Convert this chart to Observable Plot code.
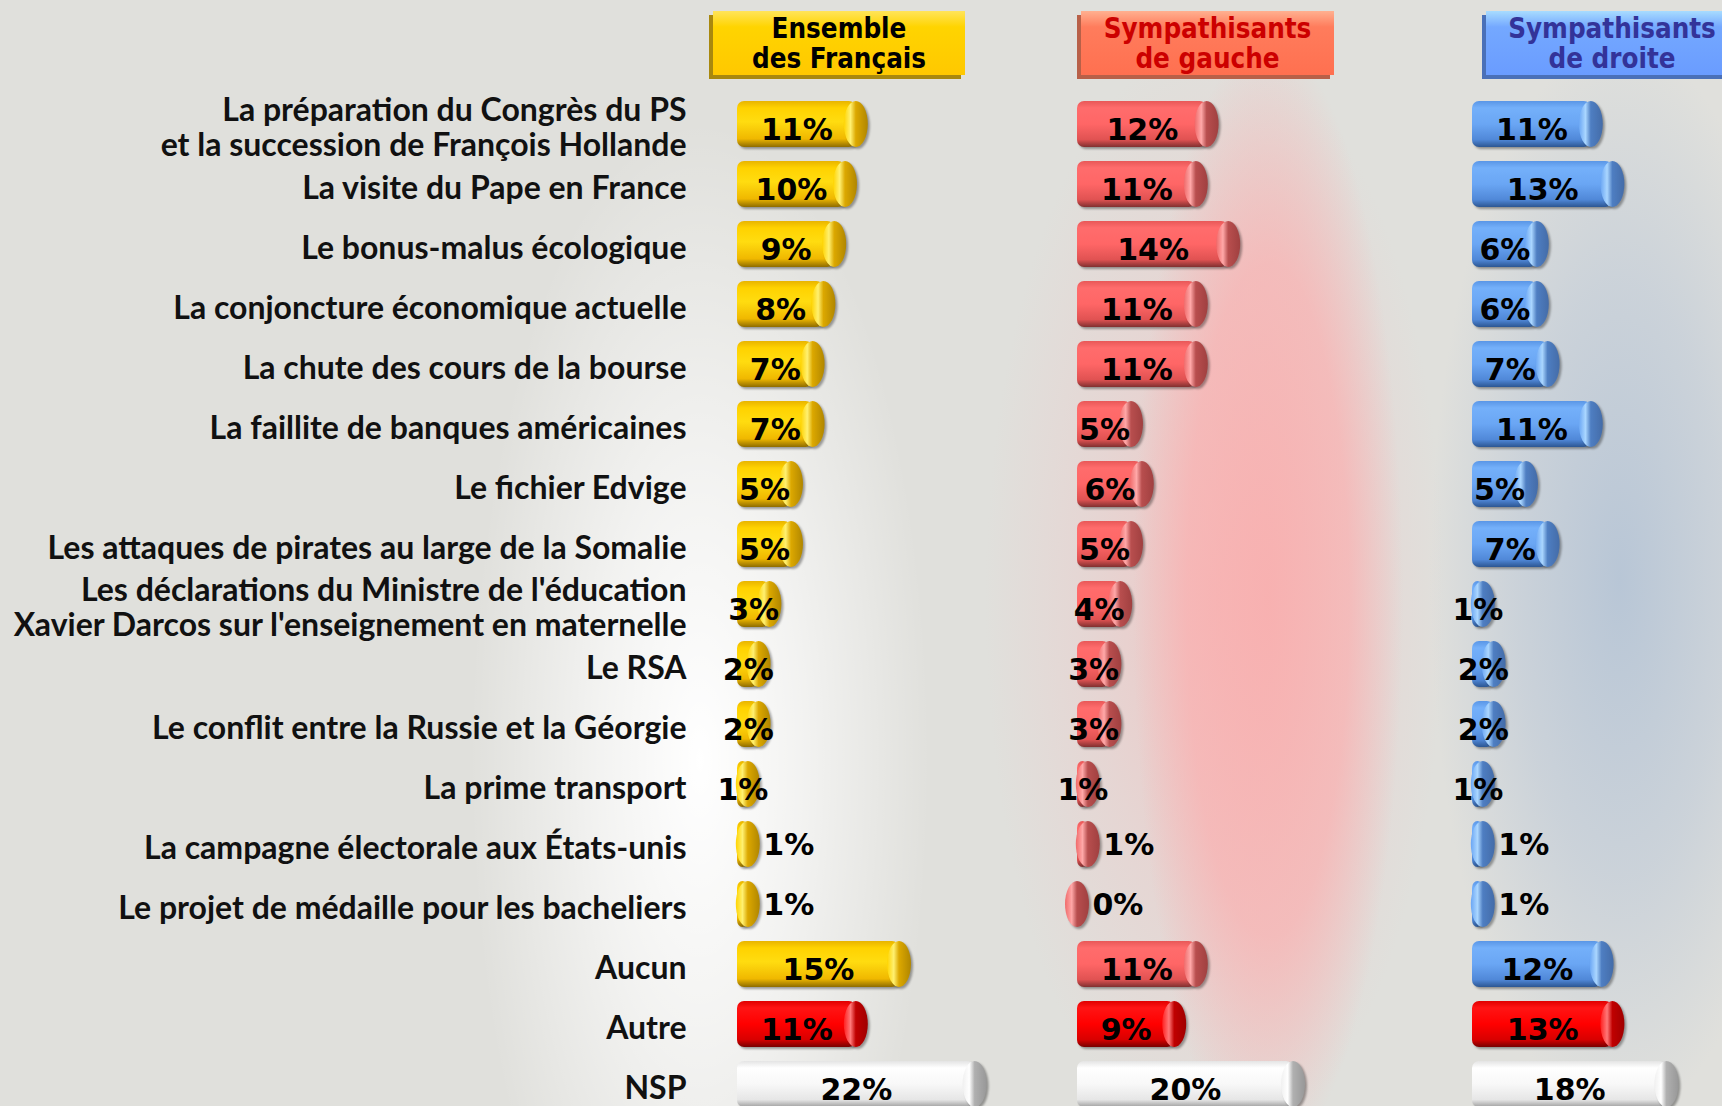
<!DOCTYPE html>
<html>
<head>
<meta charset="utf-8">
<script src="https://cdn.jsdelivr.net/npm/d3@7"></script>
<script src="https://cdn.jsdelivr.net/npm/@observablehq/plot@0.6"></script>
<style>
  html, body { margin: 0; padding: 0; background: #E0E0DC; }
  #chart {
    position: relative; width: 1722px; height: 1106px; overflow: hidden;
    background:
      radial-gradient(ellipse 135px 560px at 1268px 600px, rgba(250,172,172,0.85) 0%, rgba(250,176,176,0.7) 60%, rgba(250,180,180,0) 100%),
      radial-gradient(ellipse 230px 560px at 1215px 600px, rgba(244,186,186,0.7) 0%, rgba(238,198,198,0.4) 55%, rgba(224,224,220,0) 100%),
      radial-gradient(ellipse 190px 540px at 1620px 580px, rgba(184,198,214,1) 0%, rgba(192,203,216,0.65) 55%, rgba(224,224,220,0) 100%),
      radial-gradient(ellipse 230px 640px at 700px 760px, rgba(255,255,255,1) 0%, rgba(255,255,255,0.6) 45%, rgba(255,255,255,0) 100%),
      #E0E0DC;
  }
  .hdr {
    position: absolute; top: 11px; height: 64px; box-sizing: border-box;
    text-align: center; padding-top: 2px;
    font-family: "DejaVu Sans Condensed", "DejaVu Sans", sans-serif; font-stretch: condensed;
    font-weight: bold; font-size: 27.5px; line-height: 30px;
  }
  #h1 { left: 713px; width: 252px; color: #000; background: linear-gradient(#FFE45A 0%, #FFD400 25%, #FFC800 100%); box-shadow: -4px 4px 0 #A8880E; }
  #h2 { left: 1081px; width: 253px; color: #CC0000; background: linear-gradient(#FFB090 0%, #FF7C5C 25%, #FF7050 100%); box-shadow: -4px 4px 0 #B86048; }
  #h3 { left: 1486px; width: 252px; color: #333399; background: linear-gradient(#A8DCFF 0%, #74A8FF 25%, #6A9CFF 100%); box-shadow: -4px 4px 0 #4A70B8; }
  .plots { position: absolute; left: 0; top: 86px; width: 1722px; height: 1020px; }
  .plots svg { position: absolute; left: 0; top: 0; overflow: visible; }
  .plots svg g[aria-label="bar"] { filter: drop-shadow(2px 2px 1px rgba(0,0,0,0.35)); }
</style>
</head>
<body>
<svg width="0" height="0" style="position:absolute">
  <defs>
    <linearGradient id="body-yellow" x1="0" y1="0" x2="0" y2="1">
      <stop offset="0" stop-color="#E8B400"/><stop offset="0.15" stop-color="#FFD200"/>
      <stop offset="0.45" stop-color="#FFDC10"/><stop offset="0.82" stop-color="#F0B800"/><stop offset="1" stop-color="#8E6C00"/>
    </linearGradient>
    <linearGradient id="body-red" x1="0" y1="0" x2="0" y2="1">
      <stop offset="0" stop-color="#E85858"/><stop offset="0.15" stop-color="#FF6C6C"/>
      <stop offset="0.5" stop-color="#FF6666"/><stop offset="0.84" stop-color="#E05252"/><stop offset="1" stop-color="#803030"/>
    </linearGradient>
    <linearGradient id="body-blue" x1="0" y1="0" x2="0" y2="1">
      <stop offset="0" stop-color="#5A96E6"/><stop offset="0.15" stop-color="#74B0FA"/>
      <stop offset="0.5" stop-color="#6AA6F4"/><stop offset="0.84" stop-color="#5088D8"/><stop offset="1" stop-color="#2C5692"/>
    </linearGradient>
    <linearGradient id="body-autre" x1="0" y1="0" x2="0" y2="1">
      <stop offset="0" stop-color="#E00000"/><stop offset="0.15" stop-color="#FF1414"/>
      <stop offset="0.5" stop-color="#FF0000"/><stop offset="0.84" stop-color="#D80000"/><stop offset="1" stop-color="#780000"/>
    </linearGradient>
    <linearGradient id="body-nsp" x1="0" y1="0" x2="0" y2="1">
      <stop offset="0" stop-color="#E4E4E4"/><stop offset="0.15" stop-color="#FFFFFF"/>
      <stop offset="0.5" stop-color="#F8F8F8"/><stop offset="0.84" stop-color="#E6E6E6"/><stop offset="1" stop-color="#A0A0A0"/>
    </linearGradient>
    <linearGradient id="cap-yellow" x1="0" y1="0" x2="1" y2="0">
      <stop offset="0" stop-color="#FFD400"/><stop offset="0.28" stop-color="#FFF070"/><stop offset="0.5" stop-color="#DCA800"/><stop offset="1" stop-color="#B08600"/>
    </linearGradient>
    <linearGradient id="cap-red" x1="0" y1="0" x2="1" y2="0">
      <stop offset="0" stop-color="#F06A6A"/><stop offset="0.28" stop-color="#FFA8A8"/><stop offset="0.5" stop-color="#B84E4E"/><stop offset="1" stop-color="#A04040"/>
    </linearGradient>
    <linearGradient id="cap-blue" x1="0" y1="0" x2="1" y2="0">
      <stop offset="0" stop-color="#6AA6F4"/><stop offset="0.28" stop-color="#AAD6FF"/><stop offset="0.5" stop-color="#4E7EC2"/><stop offset="1" stop-color="#446CA8"/>
    </linearGradient>
    <linearGradient id="cap-autre" x1="0" y1="0" x2="1" y2="0">
      <stop offset="0" stop-color="#FF2020"/><stop offset="0.28" stop-color="#FF7878"/><stop offset="0.5" stop-color="#C00000"/><stop offset="1" stop-color="#A00000"/>
    </linearGradient>
    <linearGradient id="cap-nsp" x1="0" y1="0" x2="1" y2="0">
      <stop offset="0" stop-color="#F0F0F0"/><stop offset="0.28" stop-color="#FFFFFF"/><stop offset="0.5" stop-color="#B0B0B0"/><stop offset="1" stop-color="#989898"/>
    </linearGradient>
  </defs>
</svg>
<div id="chart">
  <div class="hdr" id="h1">Ensemble<br>des Français</div>
  <div class="hdr" id="h2">Sympathisants<br>de gauche</div>
  <div class="hdr" id="h3">Sympathisants<br>de droite</div>
  <div class="plots" id="plots"></div>
</div>
<script>
// ---- Data ----
const categories = [
  "La préparation du Congrès du PS\net la succession de François Hollande",
  "La visite du Pape en France",
  "Le bonus-malus écologique",
  "La conjoncture économique actuelle",
  "La chute des cours de la bourse",
  "La faillite de banques américaines",
  "Le fichier Edvige",
  "Les attaques de pirates au large de la Somalie",
  "Les déclarations du Ministre de l'éducation\nXavier Darcos sur l'enseignement en maternelle",
  "Le RSA",
  "Le conflit entre la Russie et la Géorgie",
  "La prime transport",
  "La campagne électorale aux États-unis",
  "Le projet de médaille pour les bacheliers",
  "Aucun",
  "Autre",
  "NSP"
];
const ensemble = [11, 10, 9, 8, 7, 7, 5, 5, 3, 2, 2, 1, 1, 1, 15, 11, 22];
const gauche   = [12, 11, 14, 11, 11, 5, 6, 5, 4, 3, 3, 1, 1, 0, 11, 9, 20];
const droite   = [11, 13, 6, 6, 7, 11, 5, 7, 1, 2, 2, 1, 1, 1, 12, 13, 18];

// rows drawn in a special colour, and rows whose label sits after the bar
const specialRows = { "Autre": "autre", "NSP": "nsp" };
const outsideLabelRows = ["La campagne électorale aux États-unis", "Le projet de médaille pour les bacheliers"];

const W = 1722, H = 1020, PX = 216; // x range width for domain [0, 20]

function panel(values, colorKey, start, withLabels) {
  const data = categories.map((c, i) => ({ cat: c, value: values[i], style: specialRows[c] || colorKey }));
  const inside = data.filter(d => !outsideLabelRows.includes(d.cat));
  const outside = data.filter(d => outsideLabelRows.includes(d.cat));
  const pctFont = { fontFamily: "DejaVu Sans, sans-serif", fontWeight: "bold", fontSize: 30, fill: "#000" };
  const marks = [
    Plot.barX(data, { x1: () => 0, x2: "value", y: "cat", fill: d => `url(#body-${d.style})`, rx: 7, insetTop: 1, insetBottom: 1 }),
    Plot.barX(data, { x1: "value", x2: "value", y: "cat", fill: d => `url(#cap-${d.style})`, insetLeft: -12, insetRight: -12, rx: 12, ry: 23, insetTop: 1, insetBottom: 1 }),
    Plot.text(inside, { x: d => d.value / 2, y: "cat", text: d => d.value + "%", textAnchor: "middle", dy: 6, ...pctFont }),
    Plot.text(outside, { x: "value", y: "cat", text: d => d.value + "%", textAnchor: "start", dx: 15, dy: 1, ...pctFont })
  ];
  if (withLabels) {
    marks.push(Plot.text(categories, {
      y: d => d, text: d => d, frameAnchor: "left", textAnchor: "end", dx: -51, dy: 3,
      lineHeight: 1.1, fontFamily: "Lato, sans-serif", fontWeight: "bold", fontSize: 32, fill: "#111"
    }));
  }
  return Plot.plot({
    width: W, height: H,
    marginLeft: start, marginRight: W - start - PX, marginTop: 0, marginBottom: 0,
    style: { background: "transparent", overflow: "visible" },
    x: { domain: [0, 20], axis: null },
    y: { domain: categories, range: [0, 1036], padding: 0.2, axis: null },
    color: { type: "identity" },
    marks
  });
}

const host = document.getElementById("plots");
host.appendChild(panel(ensemble, "yellow", 737, true));
host.appendChild(panel(gauche, "red", 1077, false));
host.appendChild(panel(droite, "blue", 1472, false));
</script>
</body>
</html>
